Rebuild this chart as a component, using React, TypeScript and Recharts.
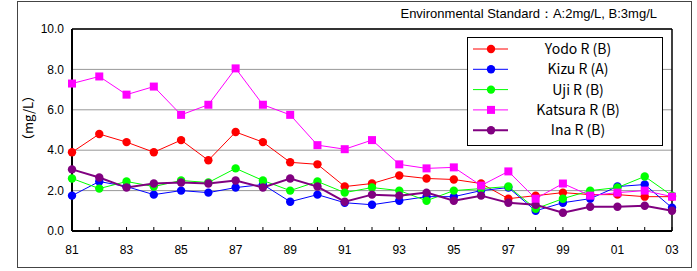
import React from 'react';
import { CartesianGrid, Line, LineChart, ReferenceLine, XAxis, YAxis } from 'recharts';

const years = [1981, 1982, 1983, 1984, 1985, 1986, 1987, 1988, 1989, 1990, 1991, 1992, 1993, 1994, 1995, 1996, 1997, 1998, 1999, 2000, 2001, 2002, 2003];
const yodo = [3.9, 4.8, 4.4, 3.9, 4.5, 3.5, 4.9, 4.4, 3.4, 3.3, 2.2, 2.35, 2.75, 2.6, 2.55, 2.35, 1.6, 1.75, 1.9, 1.8, 1.8, 1.7, 1.7];
const kizu = [1.75, 2.45, 2.2, 1.8, 2.0, 1.9, 2.15, 2.3, 1.45, 1.8, 1.4, 1.3, 1.5, 1.7, 1.7, 2.0, 2.15, 1.0, 1.4, 1.6, 2.2, 2.3, 1.15];
const uji = [2.6, 2.1, 2.45, 2.2, 2.5, 2.4, 3.1, 2.5, 2.0, 2.45, 1.9, 2.15, 2.0, 1.5, 2.0, 2.1, 2.2, 1.1, 1.6, 2.0, 2.15, 2.7, 1.75];
const katsura = [7.3, 7.65, 6.75, 7.15, 5.75, 6.25, 8.05, 6.25, 5.75, 4.25, 4.05, 4.5, 3.3, 3.1, 3.15, 2.25, 2.95, 1.6, 2.35, 1.75, 1.9, 2.0, 1.7];
const ina = [3.05, 2.65, 2.15, 2.35, 2.4, 2.35, 2.5, 2.15, 2.6, 2.2, 1.45, 1.8, 1.75, 1.9, 1.5, 1.75, 1.4, 1.3, 0.9, 1.2, 1.2, 1.25, 1.0];
const yTicks = [0, 2, 4, 6, 8, 10];

const series = [
  { key: 'yodo', name: 'Yodo R (B)', color: '#ff0000', width: 1, square: false },
  { key: 'kizu', name: 'Kizu R (A)', color: '#0000ff', width: 1, square: false },
  { key: 'uji', name: 'Uji R (B)', color: '#00ff00', width: 1, square: false },
  { key: 'katsura', name: 'Katsura R (B)', color: '#ff00ff', width: 1, square: true },
  { key: 'ina', name: 'Ina R (B)', color: '#800080', width: 2, square: false },
];
// draw order: magenta on top
const drawOrder = ['yodo', 'kizu', 'uji', 'ina', 'katsura'];

const data = years.map((year, i) => ({
  year,
  yodo: yodo[i],
  kizu: kizu[i],
  uji: uji[i],
  katsura: katsura[i],
  ina: ina[i],
}));

const narrow = '"Liberation Sans Narrow", "Arial Narrow", "Liberation Sans", Arial, sans-serif';
const legendFont = '"Noto Sans CJK JP", "DejaVu Sans", sans-serif';

const XTick = (props: any) => {
  const { x, y, payload } = props;
  const yr = payload.value as number;
  return (
    <g>
      <line x1={x} x2={x} y1={y} y2={y - 4} stroke="#000" />
      {yr % 2 === 1 && (
        <text x={x} y={y + 23} textAnchor="middle" fontSize={12} fontFamily={narrow} fill="#000">
          {String(yr).slice(2)}
        </text>
      )}
    </g>
  );
};

const makeDot = (color: string, square: boolean) => (props: any) => {
  const { cx, cy, index } = props;
  if (square) {
    return <rect key={index} x={cx - 4} y={cy - 4} width={8} height={8} fill={color} />;
  }
  return <circle key={index} cx={cx} cy={cy} r={4.2} fill={color} />;
};

const LegendBox = () => (
  <div
    style={{
      position: 'absolute',
      left: 467,
      top: 37,
      width: 196,
      height: 109,
      border: '1px solid #000',
      background: '#fff',
      boxSizing: 'border-box',
    }}
  >
    <svg width={194} height={107} style={{ display: 'block' }}>
      {series.map((s, i) => {
        const cy = 11 + i * 20.3;
        return (
          <g key={s.key}>
            <line x1={5} x2={40} y1={cy} y2={cy} stroke={s.color} strokeWidth={s.width} />
            {s.square ? (
              <rect x={23 - 4} y={cy - 4} width={8} height={8} fill={s.color} />
            ) : (
              <circle cx={23} cy={cy} r={4.2} fill={s.color} />
            )}
            <text x={110} y={cy + 5} textAnchor="middle" fontSize={14} fontFamily={legendFont} fill="#000">
              {s.name}
            </text>
          </g>
        );
      })}
    </svg>
  </div>
);

export default function App() {
  return (
    <div style={{ position: 'absolute', left: 0, top: 0, width: 697, height: 271, background: '#fff' }}>
      <div
        style={{
          position: 'absolute',
          left: 17,
          top: 1,
          width: 675,
          height: 267,
          border: '1px solid #444',
          boxSizing: 'border-box',
        }}
      />
      <div
        style={{
          position: 'absolute',
          right: 40,
          top: 5,
          fontSize: 13,
          fontFamily: narrow,
          color: '#000',
          whiteSpace: 'nowrap',
        }}
      >
        Environmental Standard：A:2mg/L, B:3mg/L
      </div>
      <div style={{ position: 'absolute', left: 0, top: 0 }}>
        <LineChart width={697} height={271} data={data} margin={{ top: 29, right: 25, bottom: 15, left: 20 }}>
          <CartesianGrid vertical={false} stroke="#999" />
          <XAxis
            dataKey="year"
            type="number"
            domain={[1981, 2003]}
            ticks={years}
            interval={0}
            height={25}
            tickLine={false}
            tickSize={0}
            tickMargin={0}
            axisLine={{ stroke: '#000', strokeWidth: 2 }}
            tick={<XTick />}
          />
          <YAxis
            domain={[0, 10]}
            ticks={yTicks}
            width={52}
            interval={0}
            tickLine={false}
            axisLine={{ stroke: '#000', strokeWidth: 2 }}
            tickFormatter={(v: number) => v.toFixed(1)}
            tick={{ fontSize: 12, fontFamily: narrow, fill: '#000' }}
            label={{
              content: () => (
                <text
                  transform="translate(33,118) rotate(-90)"
                  textAnchor="middle"
                  fontSize={13}
                  fontFamily={legendFont}
                  fill="#000"
                >
                  （mg/L）
                </text>
              ),
            }}
          />
          <ReferenceLine y={10} stroke="#000" strokeWidth={1.5} />
          <ReferenceLine x={2003} stroke="#000" strokeWidth={1.5} />
          {drawOrder.map((k) => {
            const s = series.find((x) => x.key === k)!;
            return (
              <Line
                key={s.key}
                dataKey={s.key}
                name={s.name}
                type="linear"
                stroke={s.color}
                strokeWidth={s.width}
                dot={makeDot(s.color, s.square)}
                activeDot={false}
                isAnimationActive={false}
              />
            );
          })}
        </LineChart>
      </div>
      <LegendBox />
    </div>
  );
}
